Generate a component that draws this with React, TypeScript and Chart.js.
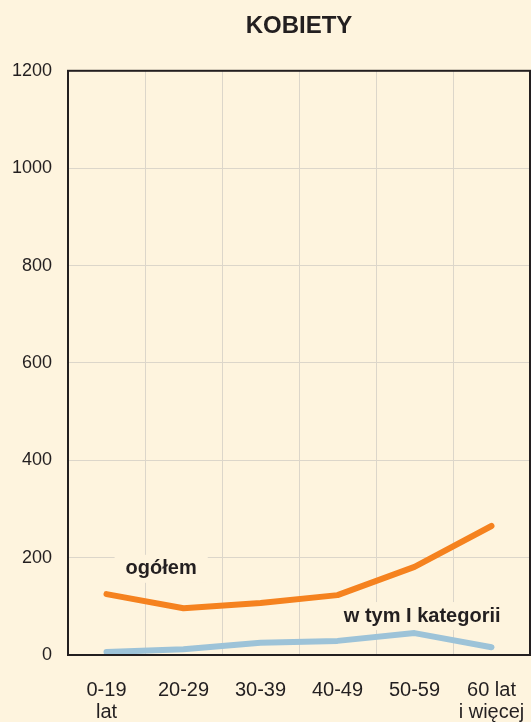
import React, { useEffect, useRef } from "react";
import { Chart, registerables } from "chart.js";

Chart.register(...registerables);

const categories: string[][] = [["0-19", "lat"], ["20-29"], ["30-39"], ["40-49"], ["50-59"], ["60 lat", "i więcej"]];
const ogolem: number[] = [125, 96, 107, 123, 181, 265];
const kategoriaI: number[] = [6, 12, 25, 29, 45, 16];
const yTicks: number[] = [0, 200, 400, 600, 800, 1000, 1200];
const seriesLabels: string[] = ["ogółem", "w tym I kategorii"];
const labelAnchorIndex: number[] = [0.71, 4.1];
const labelAnchorValue: number[] = [177, 80];

const BG = "#FEF4DE";
const INK = "#231F20";

export default function App() {
  const ref = useRef<HTMLCanvasElement | null>(null);

  useEffect(() => {
    document.body.style.margin = "0";
    document.body.style.background = BG;
    const canvas = ref.current!;
    const annotate = {
      id: "annotate",
      beforeDatasetsDraw(chart: any) {
        const { ctx, scales } = chart;
        ctx.save();
        ctx.font = "bold 20px 'Liberation Sans', Arial, sans-serif";
        ctx.textAlign = "center";
        ctx.textBaseline = "middle";
        seriesLabels.forEach((t, i) => {
          const x = scales.x.getPixelForValue(labelAnchorIndex[i]);
          const y = scales.y.getPixelForValue(labelAnchorValue[i]);
          const w = ctx.measureText(t).width;
          ctx.fillStyle = BG;
          ctx.fillRect(x - w / 2 - 11, y - 14, w + 22, 28);
          ctx.fillStyle = INK;
          ctx.fillText(t, x, y);
        });
        ctx.restore();
      },
      afterDraw(chart: any) {
        const { ctx, chartArea: a } = chart;
        ctx.save();
        ctx.strokeStyle = INK;
        ctx.lineWidth = 2;
        ctx.strokeRect(a.left, a.top, a.right - a.left, a.bottom - a.top);
        ctx.restore();
      },
    };
    const bgPlugin = {
      id: "bg",
      beforeDraw(chart: any) {
        const { ctx } = chart;
        ctx.save();
        ctx.fillStyle = BG;
        ctx.fillRect(0, 0, chart.width, chart.height);
        ctx.restore();
      },
    };
    const chart = new Chart(canvas, {
      type: "line",
      data: {
        labels: categories as any,
        datasets: [
          {
            label: seriesLabels[0],
            data: ogolem,
            borderColor: "#F5821F",
            borderWidth: 6,
            pointRadius: 0,
            tension: 0,
            borderCapStyle: "round",
            borderJoinStyle: "round",
          },
          {
            label: seriesLabels[1],
            data: kategoriaI,
            borderColor: "#9DC3D8",
            borderWidth: 6,
            pointRadius: 0,
            tension: 0,
            borderCapStyle: "round",
            borderJoinStyle: "round",
          },
        ],
      },
      options: {
        responsive: false,
        animation: false,
        layout: { padding: { left: 0, right: 1, top: 0, bottom: 0 } },
        plugins: {
          legend: { display: false },
          tooltip: { enabled: false },
          title: {
            display: true,
            text: "KOBIETY",
            fullSize: false,
            color: INK,
            font: { family: "'Liberation Sans', Arial, sans-serif", size: 24, weight: "bold", lineHeight: 1.2 },
            padding: { top: 12, bottom: 30 },
          },
        },
        scales: {
          x: {
            type: "category",
            offset: true,
            grid: { color: "#DCD6CA", lineWidth: 1, drawTicks: false, offset: true },
            border: { display: false },
            ticks: {
              color: INK,
              padding: 24,
              maxRotation: 0,
              autoSkip: false,
              font: { family: "'Liberation Sans', Arial, sans-serif", size: 20, lineHeight: 1.1 },
            },
            afterFit(scale: any) {
              scale.height = 67;
              scale.paddingLeft = 0;
              scale.paddingRight = 0;
            },
          },
          y: {
            min: 0,
            max: 1200,
            afterBuildTicks(scale: any) {
              scale.ticks = yTicks.map((v) => ({ value: v }));
            },
            grid: { color: "#DCD6CA", lineWidth: 1, drawTicks: false },
            border: { display: false },
            ticks: {
              color: INK,
              padding: 16,
              font: { family: "'Liberation Sans', Arial, sans-serif", size: 18 },
              callback: (v: any) => String(v),
            },
            afterFit(scale: any) {
              scale.width = 68;
              scale.paddingTop = 0;
              scale.paddingBottom = 0;
            },
          },
        },
      },
      plugins: [bgPlugin, annotate],
    });
    return () => chart.destroy();
  }, []);

  return (
    <div style={{ position: "absolute", left: 0, top: 0, width: 531, height: 722, background: BG }}>
      <canvas ref={ref} width={531} height={722} style={{ display: "block", width: 531, height: 722 }} />
    </div>
  );
}
